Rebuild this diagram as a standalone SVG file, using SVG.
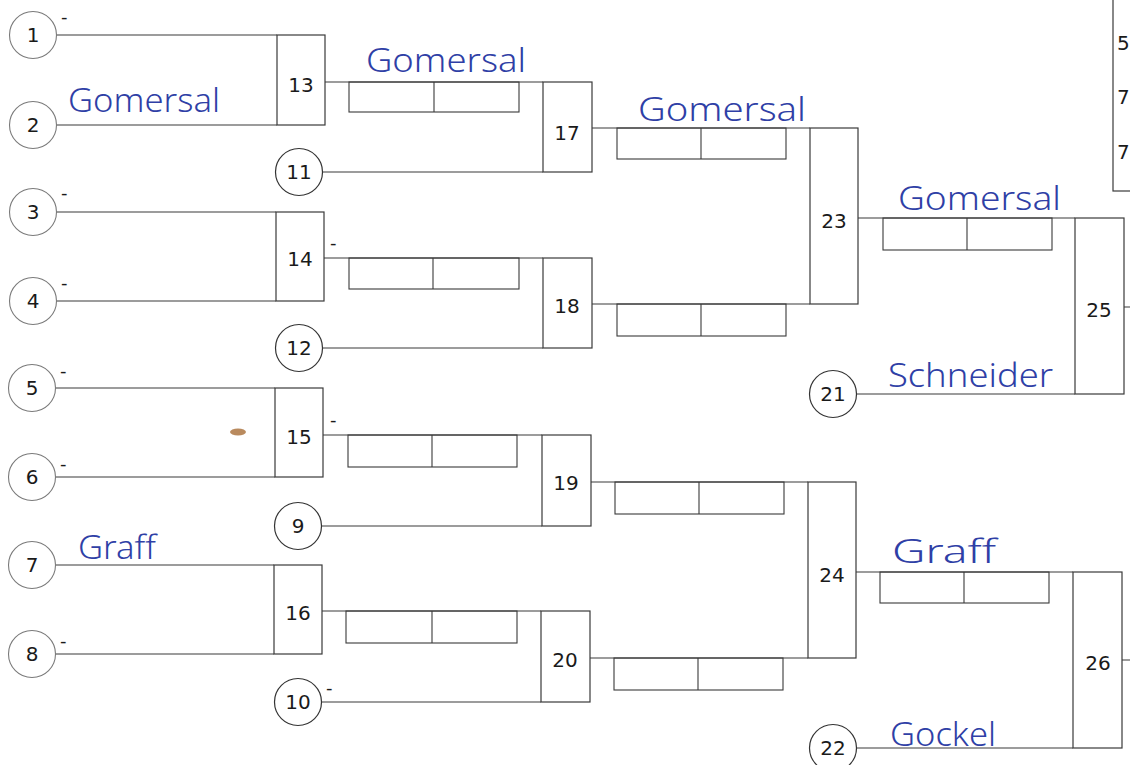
<svg xmlns="http://www.w3.org/2000/svg" width="1130" height="765" viewBox="0 0 1130 765">
<style>
.ln{stroke:#3a3a3a;stroke-width:1.2;fill:none}
.bx{stroke:#3a3a3a;stroke-width:1.2;fill:#fff}
.sc{stroke:#3a3a3a;stroke-width:1.1;fill:none}
.cf{stroke:#7a7a7a;stroke-width:1.1;fill:#fff}
.cs{stroke:#333;stroke-width:1.2;fill:#fff}
.num{font-family:"DejaVu Sans",sans-serif;font-size:20px;fill:#1a1a1a;text-anchor:middle}
.tk{font-family:"DejaVu Sans",sans-serif;font-size:18px;fill:#1a1a1a}
.hw{font-family:"Noto Sans",sans-serif;font-size:33px;fill:#2f3fa6;font-weight:300}
</style>
<rect width="1130" height="765" fill="#fff"/>
<g id="connectors">
<path class="ln" d="M57,35H277 M57,125H277 M57,212H276 M57,301H276 M56,388H275 M56,477H275 M56,565H274 M56,654H274"/>
<path class="ln" d="M322,172H543 M323,348H543 M322,526H542 M322,702H541 M857,394H1075 M857,748H1073"/>
<path class="ln" d="M325,82H543 M324,258H543 M323,435H542 M322,611H541"/>
<path class="ln" d="M592,128H810 M592,304H810 M591,482H808 M590,658H808"/>
<path class="ln" d="M858,218H1075 M856,572H1073 M1124,307H1130 M1122,660H1130"/>
</g>
<g id="scoreboxes">
<g id="s13"><rect class="sc" x="349" y="82" width="170" height="30"/><line class="sc" x1="434" y1="82" x2="434" y2="112"/></g>
<g id="s14"><rect class="sc" x="349" y="258" width="170" height="31"/><line class="sc" x1="433" y1="258" x2="433" y2="289"/></g>
<g id="s15"><rect class="sc" x="348" y="435" width="169" height="32"/><line class="sc" x1="432" y1="435" x2="432" y2="467"/></g>
<g id="s16"><rect class="sc" x="346" y="611" width="171" height="32"/><line class="sc" x1="432" y1="611" x2="432" y2="643"/></g>
<g id="s17"><rect class="sc" x="617" y="128" width="169" height="31"/><line class="sc" x1="701" y1="128" x2="701" y2="159"/></g>
<g id="s18"><rect class="sc" x="617" y="304" width="169" height="32"/><line class="sc" x1="701" y1="304" x2="701" y2="336"/></g>
<g id="s19"><rect class="sc" x="615" y="482" width="169" height="32"/><line class="sc" x1="699" y1="482" x2="699" y2="514"/></g>
<g id="s20"><rect class="sc" x="614" y="658" width="169" height="32"/><line class="sc" x1="698" y1="658" x2="698" y2="690"/></g>
<g id="s23"><rect class="sc" x="883" y="218" width="169" height="32"/><line class="sc" x1="967" y1="218" x2="967" y2="250"/></g>
<g id="s24"><rect class="sc" x="880" y="572" width="169" height="31"/><line class="sc" x1="964" y1="572" x2="964" y2="603"/></g>
</g>
<g id="m13"><rect class="bx" x="277" y="35" width="48" height="90"/><text class="num" x="301" y="92">13</text></g>
<g id="m14"><rect class="bx" x="276" y="212" width="48" height="89"/><text class="num" x="300" y="266">14</text></g>
<g id="m15"><rect class="bx" x="275" y="388" width="48" height="89"/><text class="num" x="299" y="444">15</text></g>
<g id="m16"><rect class="bx" x="274" y="565" width="48" height="89"/><text class="num" x="298" y="620">16</text></g>
<g id="m17"><rect class="bx" x="543" y="82" width="49" height="90"/><text class="num" x="567" y="140">17</text></g>
<g id="m18"><rect class="bx" x="543" y="258" width="49" height="90"/><text class="num" x="567" y="313">18</text></g>
<g id="m19"><rect class="bx" x="542" y="435" width="49" height="91"/><text class="num" x="566" y="490">19</text></g>
<g id="m20"><rect class="bx" x="541" y="611" width="49" height="91"/><text class="num" x="565" y="667">20</text></g>
<g id="m23"><rect class="bx" x="810" y="128" width="48" height="176"/><text class="num" x="834" y="228">23</text></g>
<g id="m24"><rect class="bx" x="808" y="482" width="48" height="176"/><text class="num" x="832" y="582">24</text></g>
<g id="m25"><rect class="bx" x="1075" y="218" width="49" height="176"/><text class="num" x="1099" y="317">25</text></g>
<g id="m26"><rect class="bx" x="1073" y="572" width="49" height="176"/><text class="num" x="1098" y="670">26</text></g>
<g id="c1"><circle class="cf" cx="33" cy="35" r="23.5"/><text class="num" x="33" y="42">1</text></g>
<g id="c2"><circle class="cf" cx="33" cy="125" r="23.5"/><text class="num" x="33" y="132">2</text></g>
<g id="c3"><circle class="cf" cx="33" cy="212" r="23.5"/><text class="num" x="33" y="219">3</text></g>
<g id="c4"><circle class="cf" cx="33" cy="301" r="23.5"/><text class="num" x="33" y="308">4</text></g>
<g id="c5"><circle class="cf" cx="32" cy="388" r="23.5"/><text class="num" x="32" y="395">5</text></g>
<g id="c6"><circle class="cf" cx="32" cy="477" r="23.5"/><text class="num" x="32" y="484">6</text></g>
<g id="c7"><circle class="cf" cx="32" cy="565" r="23.5"/><text class="num" x="32" y="572">7</text></g>
<g id="c8"><circle class="cf" cx="32" cy="654" r="23.5"/><text class="num" x="32" y="661">8</text></g>
<g id="c11"><circle class="cs" cx="299" cy="172" r="23.5"/><text class="num" x="299" y="179">11</text></g>
<g id="c12"><circle class="cs" cx="299" cy="348" r="23.5"/><text class="num" x="299" y="355">12</text></g>
<g id="c9"><circle class="cs" cx="298" cy="526" r="23.5"/><text class="num" x="298" y="533">9</text></g>
<g id="c10"><circle class="cs" cx="298" cy="702" r="23.5"/><text class="num" x="298" y="709">10</text></g>
<g id="c21"><circle class="cs" cx="833" cy="394" r="23.5"/><text class="num" x="833" y="401">21</text></g>
<g id="c22"><circle class="cs" cx="833" cy="748" r="23.5"/><text class="num" x="833" y="755">22</text></g>
<g id="ticks">
<text class="tk" x="61" y="23">-</text><text class="tk" x="61" y="199">-</text><text class="tk" x="61" y="289">-</text>
<text class="tk" x="60" y="377">-</text><text class="tk" x="60" y="470">-</text><text class="tk" x="60" y="647">-</text>
<text class="tk" x="330" y="249">-</text><text class="tk" x="330" y="426">-</text><text class="tk" x="326" y="694">-</text>
</g>
<g id="panel">
<rect x="1113" y="-2" width="30" height="193" fill="#fff" stroke="#3a3a3a" stroke-width="1.2"/>
<text class="num" x="1117" y="50" style="text-anchor:start">5</text>
<text class="num" x="1117" y="104" style="text-anchor:start">7</text>
<text class="num" x="1117" y="159" style="text-anchor:start">7</text>
</g>
<g id="handwriting">
<text class="hw" x="68" y="112" textLength="152" lengthAdjust="spacingAndGlyphs">Gomersal</text>
<text class="hw" x="366" y="72" textLength="160" lengthAdjust="spacingAndGlyphs">Gomersal</text>
<text class="hw" x="638" y="121" textLength="168" lengthAdjust="spacingAndGlyphs">Gomersal</text>
<text class="hw" x="898" y="210" textLength="163" lengthAdjust="spacingAndGlyphs">Gomersal</text>
<text class="hw" x="888" y="387" textLength="165" lengthAdjust="spacingAndGlyphs">Schneider</text>
<text class="hw" x="78" y="559" textLength="78" lengthAdjust="spacingAndGlyphs">Graff</text>
<text class="hw" x="892" y="563" textLength="104" lengthAdjust="spacingAndGlyphs">Graff</text>
<text class="hw" x="890" y="746" textLength="106" lengthAdjust="spacingAndGlyphs">Gockel</text>
</g>
<ellipse cx="238" cy="432" rx="8" ry="3.5" fill="#b98a5e"/>
</svg>
